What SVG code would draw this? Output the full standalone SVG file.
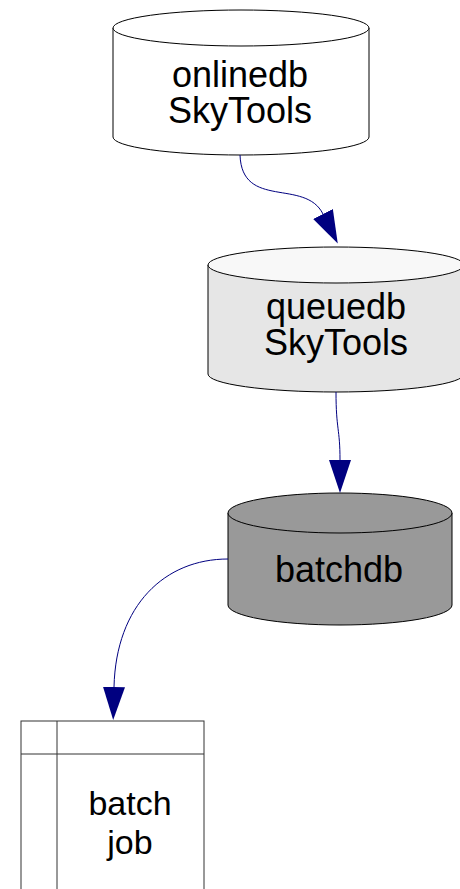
<svg xmlns="http://www.w3.org/2000/svg" width="460" height="889" viewBox="0 0 460 889">
<style>
.cyl{stroke:#000;stroke-width:1}
.lbl{font-family:"Liberation Sans",Arial,sans-serif;font-size:36px;fill:#000;text-anchor:middle}
.sm{font-size:34px}
.edge{fill:none;stroke:#000080;stroke-width:1}
.box{fill:#fff;stroke:#333;stroke-width:1}
</style>
<defs>
<marker id="arr" markerUnits="userSpaceOnUse" viewBox="0 0 33 22" refX="0" refY="11" markerWidth="33" markerHeight="22" orient="auto">
<path d="M0,0 L33,11 L0,22 Z" fill="#000080"/>
</marker>
</defs>
<rect width="460" height="889" fill="#fff"/>
<g id="onlinedb">
<path class="cyl" fill="#fff" d="M113,28 L113,137 A128,18 0 0 0 369,137 L369,28 Z"/>
<ellipse class="cyl" fill="#fff" cx="241" cy="28" rx="128" ry="18"/>
<text class="lbl" x="240" y="87">onlinedb</text>
<text class="lbl" x="240" y="123">SkyTools</text>
</g>
<g id="queuedb">
<path class="cyl" fill="#e6e6e6" d="M208,265 L208,374 A128,18 0 0 0 464,374 L464,265 Z"/>
<ellipse class="cyl" fill="#f8f8f8" cx="336" cy="265" rx="128" ry="18"/>
<text class="lbl" x="336" y="319">queuedb</text>
<text class="lbl" x="336" y="355">SkyTools</text>
</g>
<g id="batchdb">
<path class="cyl" fill="#999" d="M228,513 L228,605 A112,20 0 0 0 452,605 L452,513 Z"/>
<ellipse class="cyl" fill="#999" cx="340" cy="513" rx="112" ry="20"/>
<text class="lbl" x="339" y="582">batchdb</text>
</g>
<g id="batchjob">
<rect class="box" x="21" y="721" width="183" height="180"/>
<line class="box" x1="57" y1="721" x2="57" y2="889"/>
<line class="box" x1="21" y1="754" x2="204" y2="754"/>
<text class="lbl sm" x="130" y="815">batch</text>
<text class="lbl sm" x="130" y="854">job</text>
</g>
<g id="connectors">
<path class="edge" marker-end="url(#arr)" d="M240,155 C242,210 305,178 323,214"/>
<path class="edge" marker-end="url(#arr)" d="M336,392 C336,430 340,428 340,460"/>
<path class="edge" marker-end="url(#arr)" d="M228,559 C165,559 116,605 114,687"/>
</g>
</svg>
